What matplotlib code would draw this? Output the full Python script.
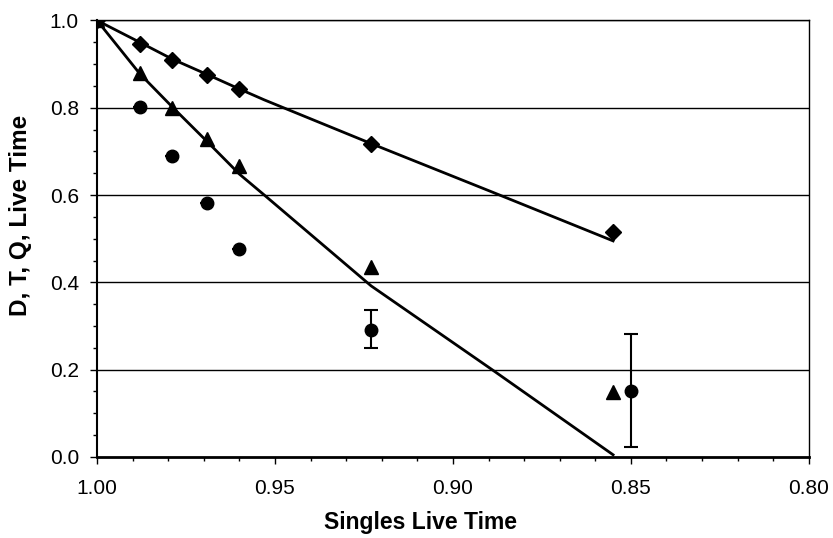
import matplotlib
matplotlib.use("Agg")
import matplotlib.pyplot as plt
from matplotlib.ticker import MultipleLocator

plt.rcParams['font.family'] = ['Liberation Sans', 'DejaVu Sans']

# singles live time for each measurement
x_pts = [1.000, 0.988, 0.979, 0.969, 0.960, 0.923, 0.855]
x_q = [1.000, 0.988, 0.979, 0.969, 0.960, 0.923, 0.850]

# measured live times
d_pts = [1.000, 0.947, 0.910, 0.874, 0.842, 0.716, 0.515]
t_pts = [1.000, 0.880, 0.800, 0.728, 0.667, 0.435, 0.149]
q_pts = [1.000, 0.802, 0.689, 0.581, 0.476, 0.292, 0.151]
q_err_lo = [0, 0, 0, 0, 0, 0.043, 0.129]
q_err_hi = [0, 0, 0, 0, 0, 0.044, 0.130]

# model curves
x_fit = [1.000, 0.988, 0.979, 0.969, 0.960, 0.953, 0.923, 0.889, 0.855]
d_fit = [1.000, 0.950, 0.912, 0.876, 0.843, 0.818, 0.718, 0.607, 0.495]
t_fit = [1.000, 0.878, 0.803, 0.722, 0.648, 0.600, 0.392, 0.200, 0.005]

fig = plt.figure(figsize=(8.33, 5.38), dpi=100)
ax = fig.add_axes([0.1165, 0.1506, 0.8545, 0.8114])

for y in [0.2, 0.4, 0.6, 0.8, 1.0]:
    ax.axhline(y, color='black', lw=1.0, zorder=1)

ax.plot(x_fit, d_fit, color='black', lw=2, zorder=2)
ax.plot(x_fit, t_fit, color='black', lw=2, zorder=2)

ax.plot(x_pts, d_pts, linestyle='none', marker='D', ms=8.5, color='black', zorder=3)
ax.plot(x_pts, t_pts, linestyle='none', marker='^', ms=9.5, color='black', zorder=3)
ax.errorbar(x_q, q_pts, yerr=[q_err_lo, q_err_hi], fmt='o', ms=9, color='black',
            ecolor='black', elinewidth=1.5, capsize=5, capthick=1.5, zorder=3)

ax.set_xlim(1.0, 0.8)
ax.set_ylim(0.0, 1.0)
ax.xaxis.set_major_locator(MultipleLocator(0.05))
ax.xaxis.set_minor_locator(MultipleLocator(0.01))
ax.yaxis.set_major_locator(MultipleLocator(0.2))
ax.yaxis.set_minor_locator(MultipleLocator(0.05))
ax.xaxis.set_major_formatter(plt.FormatStrFormatter('%.2f'))
ax.yaxis.set_major_formatter(plt.FormatStrFormatter('%.1f'))
ax.tick_params(which='major', direction='out', length=5, width=1, labelsize=15)
ax.tick_params(axis='x', which='major', pad=11)
ax.tick_params(axis='y', which='major', pad=8)
ax.tick_params(which='minor', direction='out', length=3, width=1)

for s in ['top', 'right']:
    ax.spines[s].set_linewidth(1.0)
ax.spines['left'].set_linewidth(1.5)
ax.spines['bottom'].set_linewidth(2.0)

ax.set_xlabel('Singles Live Time', fontsize=16.5, fontweight='bold')
ax.set_ylabel('D, T, Q, Live Time', fontsize=17.5, fontweight='bold')
ax.xaxis.set_label_coords(0.454, -0.124)
ax.yaxis.set_label_coords(-0.091, 0.554)

fig.savefig('out.png', dpi=100)
